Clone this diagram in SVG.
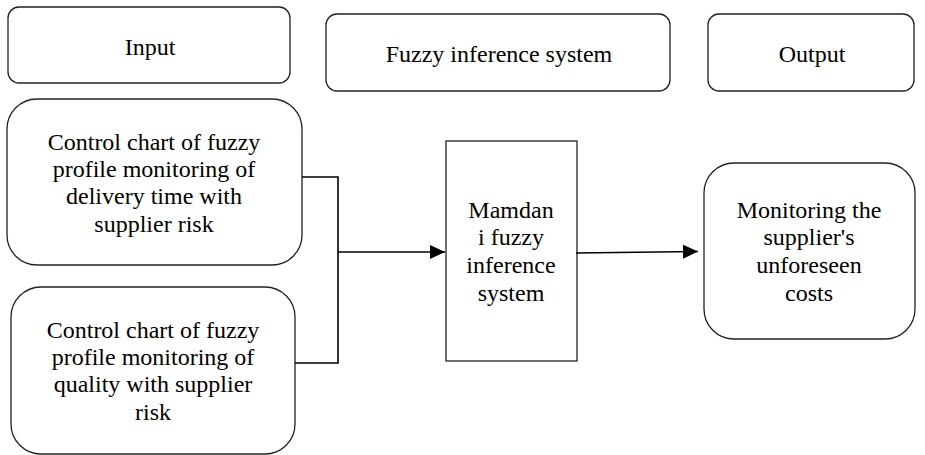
<svg xmlns="http://www.w3.org/2000/svg" width="925" height="455" viewBox="0 0 925 455" font-family="Liberation Serif, Times New Roman, DejaVu Serif, serif">
<style>
.box{fill:#fff;stroke:#222;stroke-width:1.3}
text{font-family:'Liberation Serif','Times New Roman','DejaVu Serif',serif;font-size:24px;fill:#000;text-anchor:middle}
.c{fill:none;stroke:#000;stroke-width:1.6}
</style>
<defs>
<marker id="ah" markerWidth="15" markerHeight="14" refX="15" refY="7" orient="auto" markerUnits="userSpaceOnUse">
<path d="M0,0 L15,7 L0,14 Z" fill="#000"/>
</marker>
</defs>
<g id="input-header">
<rect class="box" x="8" y="7" width="282" height="76" rx="11"/>
<text x="150" y="55">Input</text>
</g>
<g id="fis-header">
<rect class="box" x="326" y="14" width="344" height="77" rx="11"/>
<text x="499" y="62">Fuzzy inference system</text>
</g>
<g id="output-header">
<rect class="box" x="708" y="14" width="206" height="77" rx="11"/>
<text x="812" y="62">Output</text>
</g>
<g id="input1">
<rect class="box" x="7" y="99" width="295" height="166" rx="30"/>
<text x="154" y="150">Control chart of fuzzy</text>
<text x="154" y="177">profile monitoring of</text>
<text x="154" y="204">delivery time with</text>
<text x="154" y="232">supplier risk</text>
</g>
<g id="input2">
<rect class="box" x="11" y="287" width="284" height="167" rx="30"/>
<text x="153" y="338">Control chart of fuzzy</text>
<text x="153" y="365">profile monitoring of</text>
<text x="153" y="392">quality with supplier</text>
<text x="153" y="420">risk</text>
</g>
<g id="mamdani">
<rect class="box" x="446" y="141" width="131" height="220"/>
<text x="511" y="218">Mamdan</text>
<text x="511" y="245">i fuzzy</text>
<text x="511" y="273">inference</text>
<text x="511" y="301">system</text>
</g>
<g id="output">
<rect class="box" x="704" y="163" width="211" height="176" rx="30"/>
<text x="809" y="218">Monitoring the</text>
<text x="809" y="245">supplier's</text>
<text x="809" y="273">unforeseen</text>
<text x="809" y="301">costs</text>
</g>
<g id="connectors">
<polyline class="c" points="302,177 338,177 338,363 295,363"/>
<line class="c" x1="338" y1="252" x2="445" y2="252" marker-end="url(#ah)"/>
<line class="c" x1="576" y1="253" x2="698" y2="251.5" marker-end="url(#ah)"/>
</g>
</svg>
